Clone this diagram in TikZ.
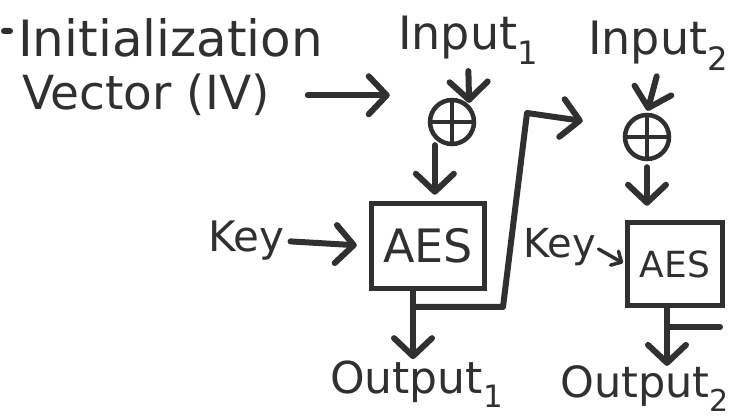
\documentclass[tikz,border=0pt]{standalone}
\usepackage{fontspec}
\setmainfont{DejaVu Sans}
\usepackage{tikz}
\usetikzlibrary{arrows.meta}
\definecolor{ink}{HTML}{303030}

\begin{document}
\begin{tikzpicture}[x=1pt, y=-1pt]
    \tikzstyle{t} = [text=ink, inner sep=0pt, anchor=base west, font=\fontsize{46}{55}\selectfont];
    \tikzstyle{xo} = [circle, draw=ink, line width=4.5pt, minimum size=44pt, inner sep=0pt,
      path picture={\draw[ink, line width=3.5pt]
        (path picture bounding box.north) -- (path picture bounding box.south)
        (path picture bounding box.west) -- (path picture bounding box.east);}];
    \tikzstyle{aes} = [rectangle, draw=ink, line width=5.5pt, text=ink, inner sep=0pt,
      minimum width=113pt, minimum height=85pt, font=\fontsize{46}{55}\selectfont];
    \useasboundingbox (0,0) rectangle (739,419);

    \node (dot) at (7,31) [fill=ink, minimum width=12pt, minimum height=6pt, inner sep=0pt, rounded corners=3pt] {};
    \node (iv_a) at ( 18, 57) [t, font=\fontsize{50}{60}\selectfont] {Initialization};
    \node (iv_b) at ( 22,110) [t, font=\fontsize{47}{56}\selectfont] {Vector (IV)};
    \node (in_1) at (398, 50) [t] {Input\textsubscript{1}};
    \node (in_2) at (588, 55) [t] {Input\textsubscript{2}};
    \node (key_1) at (208,252) [t, font=\fontsize{42}{50}\selectfont] {Key};
    \node (key_2) at (523,258) [t, font=\fontsize{40}{48}\selectfont] {Key};
    \node (out_1) at (330,394) [t, font=\fontsize{44}{52}\selectfont] {Output\textsubscript{1}};
    \node (out_2) at (560,398) [t, font=\fontsize{43}{52}\selectfont] {Output\textsubscript{2}};

    \node (xor_1) at (452,122) [xo] {};
    \node (xor_2) at (647,137) [xo] {};
    \node (aes_1) at (428,246) [aes] {AES};
    \node (aes_2) at (675,264) [aes, minimum width=95pt, minimum height=83pt,
      font=\fontsize{36}{43}\selectfont] {AES};

    \coordinate (fb_1) at (413,307);
    \coordinate (fb_2) at (503,307);
    \coordinate (fb_3) at (527,113);
    \coordinate (fb_4) at (668,327);
    \coordinate (fb_5) at (720,327);

    \begin{scope}[ink, line width=6pt, line cap=round, line join=round,
                  -{Straight Barb[round, length=18pt, width=38pt]}]
      \draw[shorten <=38pt, shorten >=38pt] (iv_b.east) -- (iv_b.east -| xor_1.west);
      \draw[shorten <=6pt, shorten >=2pt] (in_1.south) -- (xor_1.north east);
      \draw[shorten <=6pt, shorten >=2pt] (in_2.south) -- (xor_2.north);
      \draw[shorten <=6pt, shorten >=6pt] (xor_1.south west) -- (xor_1.south west |- aes_1.north);
      \draw[shorten <=6pt, shorten >=14pt] (xor_2.south) -- (xor_2.south |- aes_2.north);
      \draw[shorten <=6pt, shorten >=12pt] (key_1.east) -- (aes_1.west);
      \draw[shorten >=2pt] ([xshift=-15pt]aes_1.south) -- ([xshift=-15pt]aes_1.south |- out_1.north);
      \draw ([xshift=-8pt]aes_2.south) -- ([xshift=-8pt]aes_2.south |- out_2.north);
      \draw (fb_1) -- (fb_2) -- (fb_3) -- ([xshift=-40pt, yshift=16pt]xor_2.west);
      \draw[line width=3.5pt, -{Straight Barb[round, length=8pt, width=16pt]}, shorten <=3pt, shorten >=2pt]
        (key_2.east) -- (aes_2.west);
      \draw[-] (fb_4) -- (fb_5);
    \end{scope}
\end{tikzpicture}
\end{document}
